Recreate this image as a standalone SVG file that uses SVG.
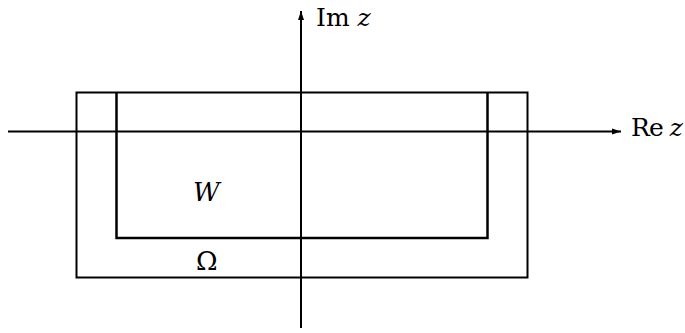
<svg xmlns="http://www.w3.org/2000/svg" width="685" height="333" viewBox="0 0 685 333">
<style>
.ln{fill:none;stroke:#000;stroke-width:2}
text{font-family:'DejaVu Serif','Liberation Serif',serif;font-size:26px;fill:#000}
.ax{font-size:25px}
.i{font-style:italic}
</style>
<defs>
<marker id="ah" markerWidth="10" markerHeight="8" refX="9" refY="4" orient="auto" markerUnits="userSpaceOnUse">
<path d="M0,1 L9,4 L0,7 Z" fill="#000"/>
</marker>
</defs>
<g id="omega">
<rect class="ln" x="76.5" y="92.5" width="451" height="185"/>
<text x="196" y="270">Ω</text>
</g>
<g id="W">
<path class="ln" d="M116.5,92.5 V238 H487.5 V92.5" style="stroke-width:2.5"/>
<text class="i" x="193" y="201">W</text>
</g>
<g id="connectors">
<line class="ln" x1="8" y1="131.5" x2="621" y2="131.5" marker-end="url(#ah)"/>
<line class="ln" x1="301" y1="328" x2="301" y2="11" marker-end="url(#ah)"/>
</g>
<g id="labels">
<text class="ax" x="316" y="26">Im <tspan class="i">z</tspan></text>
<text class="ax" x="631" y="136" textLength="52">Re <tspan class="i">z</tspan></text>
</g>
</svg>
